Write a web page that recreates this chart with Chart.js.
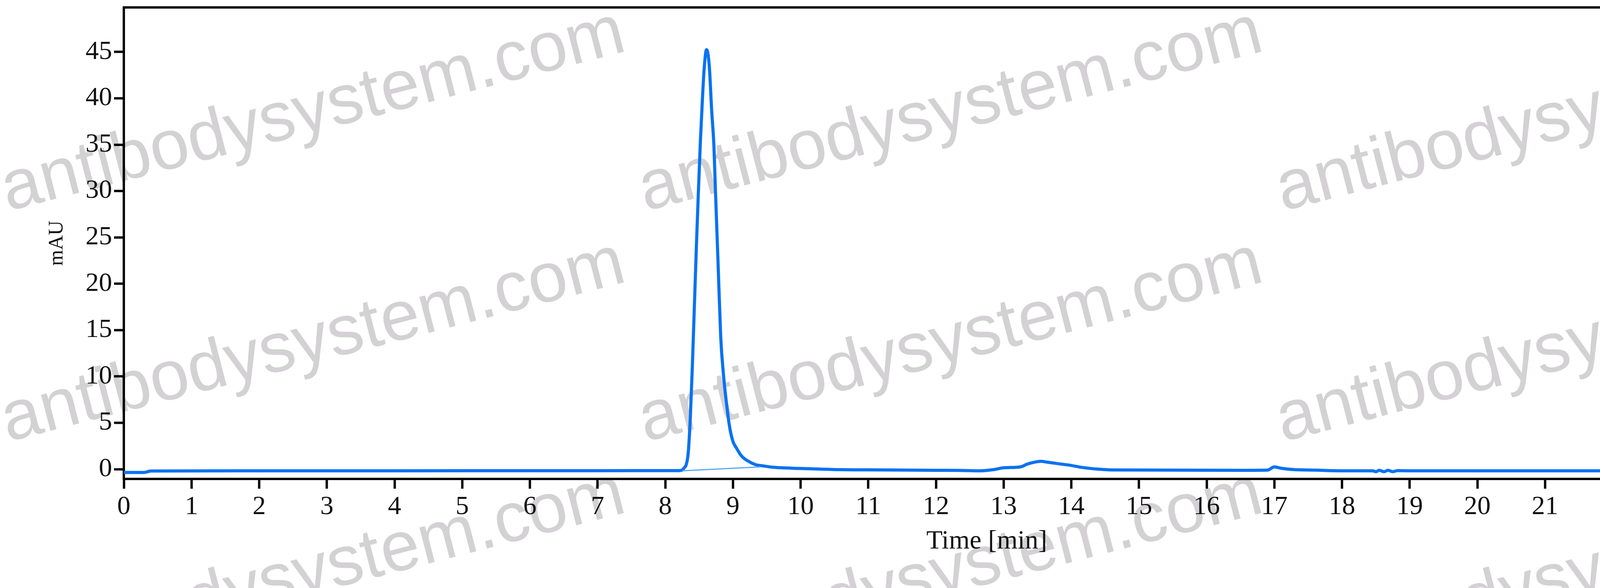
<!DOCTYPE html>
<html>
<head>
<meta charset="utf-8">
<script src="https://cdn.jsdelivr.net/npm/chart.js@4.4.1/dist/chart.umd.min.js"></script>
<style>
  html, body { margin: 0; padding: 0; background: #fff; }
  #wrap { width: 4923px; height: 1504px; position: relative; }
</style>
</head>
<body>
<div id="wrap"><canvas id="chart"></canvas></div>
<script>
// chromatogram trace (time in min, signal in mAU)
const timeMin = [0, 0.3, 0.4, 2, 4, 6, 7, 8, 8.2, 8.25, 8.28, 8.31, 8.34, 8.37, 8.40, 8.43, 8.46,
  8.49, 8.52, 8.55, 8.575, 8.61, 8.635, 8.655, 8.685, 8.72, 8.74, 8.78, 8.82, 8.86, 8.90, 8.95,
  9.0, 9.05, 9.13, 9.23, 9.33, 9.45, 9.6, 10.0, 10.6, 11.2, 12.0, 12.35, 12.65, 12.85, 13.0,
  13.25, 13.35, 13.45, 13.55, 13.65, 13.8, 14.0, 14.15, 14.4, 14.6, 15.5, 16.5, 16.9, 17.0,
  17.1, 17.3, 17.6, 18.0, 18.45, 18.5, 18.55, 18.62, 18.68, 18.75, 18.82, 19, 20, 22, 25];
const mAU = [-0.35, -0.35, -0.2, -0.17, -0.17, -0.16, -0.16, -0.15, -0.15, -0.1, 0.15, 0.5, 1.8,
  5.5, 11, 17.5, 24, 30, 35.5, 40, 43.2, 45.25, 44.6, 43, 38.8, 34.7, 30.4, 22.3, 14.2, 10.2, 7.4, 4.6,
  3.0, 2.3, 1.4, 0.85, 0.5, 0.35, 0.2, 0.08, -0.05, -0.08, -0.12, -0.13, -0.18, -0.05, 0.15,
  0.25, 0.55, 0.75, 0.85, 0.75, 0.6, 0.4, 0.2, 0.0, -0.08, -0.1, -0.12, -0.1, 0.25,
  0.1, -0.05, -0.1, -0.17, -0.17, -0.27, -0.12, -0.27, -0.12, -0.27, -0.15, -0.17, -0.17, -0.17, -0.17];

// integration baseline under the main peak
const baseTime = [8.25, 9.4];
const baseMAU = [-0.17, 0.25];

const xTicks = [0,1,2,3,4,5,6,7,8,9,10,11,12,13,14,15,16,17,18,19,20,21,22,23,24,25];
const yTicks = [0,5,10,15,20,25,30,35,40,45];

const toPts = (xs, ys) => xs.map((x, i) => ({x: x, y: ys[i]}));

const serif = '"Liberation Serif", "DejaVu Serif", serif';

// grey watermark behind everything
const watermark = {
  id: 'watermark',
  beforeDraw(chart) {
    const c = chart.ctx;
    c.save();
    c.font = '180px "Liberation Sans", Arial, sans-serif';
    c.fillStyle = '#d3d1d3';
    c.textBaseline = 'alphabetic';
    [540, 1130, 1720].forEach(y => {
      [20, 1652, 3284].forEach(x => {
        c.save();
        c.translate(x, y);
        c.rotate(-14.5 * Math.PI / 180);
        c.fillText('antibodysystem.com', 0, 0);
        c.restore();
      });
    });
    c.restore();
  }
};

// top and right frame lines
const frame = {
  id: 'frame',
  afterDraw(chart) {
    const a = chart.chartArea;
    const c = chart.ctx;
    c.save();
    c.strokeStyle = '#000';
    c.lineWidth = 6;
    c.beginPath();
    c.moveTo(a.left - 3, a.top);
    c.lineTo(a.right, a.top);
    c.lineTo(a.right, a.bottom + 3);
    c.stroke();
    c.restore();
  }
};

const noPad = s => { s.paddingTop = 0; s.paddingBottom = 0; s.paddingLeft = 0; s.paddingRight = 0; };

new Chart(document.getElementById('chart'), {
  type: 'line',
  data: {
    datasets: [{
      label: 'baseline',
      data: toPts(baseTime, baseMAU),
      borderColor: '#5aa6f7',
      borderWidth: 3,
      pointRadius: 0,
      tension: 0
    }, {
      label: 'signal',
      data: toPts(timeMin, mAU),
      borderColor: '#0a72f2',
      borderWidth: 8,
      pointRadius: 0,
      cubicInterpolationMode: 'monotone'
    }]
  },
  options: {
    responsive: true,
    maintainAspectRatio: false,
    devicePixelRatio: 1,
    animation: false,
    layout: { padding: { top: 19, right: 188, left: 0, bottom: 0 } },
    plugins: { legend: { display: false }, tooltip: { enabled: false } },
    scales: {
      x: {
        type: 'linear',
        min: 0,
        max: 25.5,
        afterBuildTicks: s => { s.ticks = xTicks.map(v => ({value: v})); },
        afterFit: s => { s.height = 279; noPad(s); },
        border: { display: true, color: '#000', width: 6 },
        grid: { drawOnChartArea: false, drawTicks: true, tickLength: 25, tickWidth: 6, tickColor: '#000' },
        ticks: { color: '#111', font: { family: serif, size: 68 }, padding: 6, maxRotation: 0, autoSkip: false },
        title: { display: true, text: 'Time [min]', color: '#111', font: { family: serif, size: 68 }, padding: { top: 0, bottom: 78 } }
      },
      y: {
        type: 'linear',
        min: -1.05,
        max: 49.8,
        afterBuildTicks: s => { s.ticks = yTicks.map(v => ({value: v})); },
        afterFit: s => { s.width = 317; noPad(s); },
        border: { display: true, color: '#000', width: 6 },
        grid: { drawOnChartArea: false, drawTicks: true, tickLength: 25, tickWidth: 6, tickColor: '#000' },
        ticks: { color: '#111', font: { family: serif, size: 68 }, padding: 5, autoSkip: false },
        title: { display: true, text: 'mAU', color: '#111', font: { family: serif, size: 52 }, padding: { top: 115, bottom: 0 } }
      }
    }
  },
  plugins: [watermark, frame]
});
</script>
</body>
</html>
